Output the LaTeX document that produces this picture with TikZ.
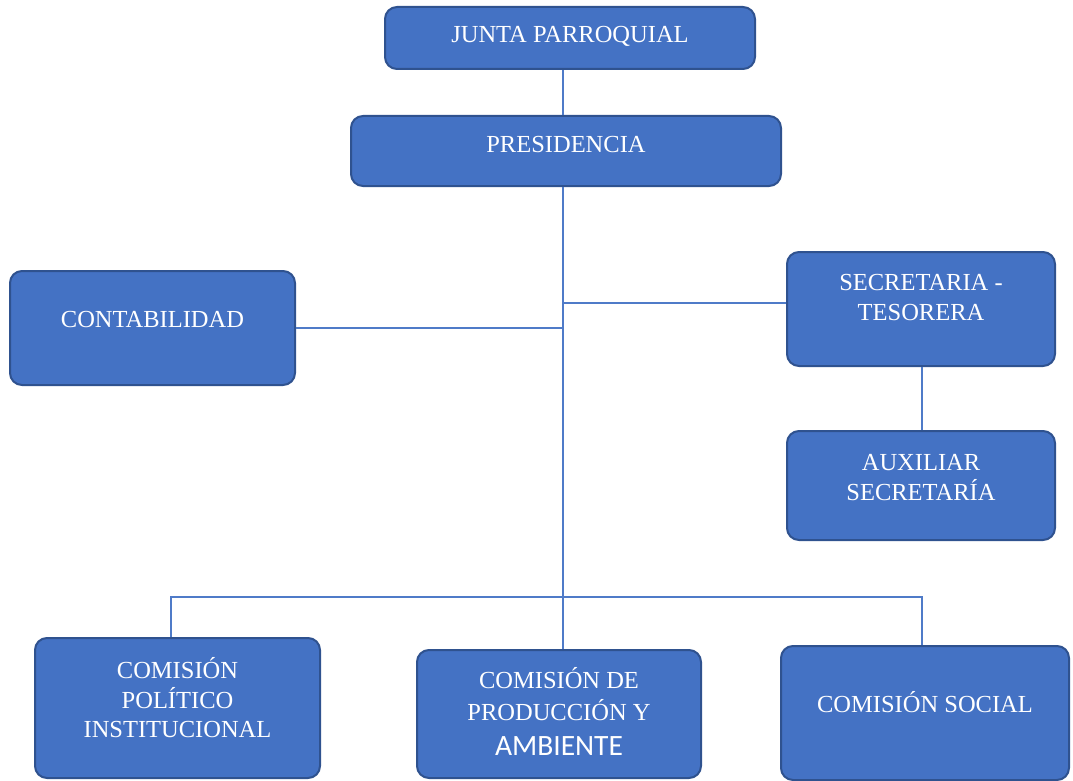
\documentclass[tikz,border=0pt]{standalone}
\usepackage{fontspec}
\setmainfont{Liberation Serif}
\newfontfamily\ambfont{Carlito}
\definecolor{boxfill}{HTML}{4472C4}
\definecolor{boxedge}{HTML}{2F528F}
\definecolor{linec}{HTML}{4F7BC8}
\begin{document}
\begin{tikzpicture}[x=1pt,y=-1pt,
  box/.style={draw=boxedge, fill=boxfill, line width=2pt, rounded corners=12pt, inner sep=0pt},
  lbl/.style={text=white, font=\fontsize{24.5}{30}\selectfont, inner sep=0pt, anchor=base},
  conn/.style={draw=linec, line width=1.3pt}]
\useasboundingbox (0,0) rectangle (1073,781);
% boxes
\node[box, minimum width=370pt, minimum height=62pt] (junta) at (570,38) {};
\node[box, minimum width=430pt, minimum height=70pt] (pres) at (566,151) {};
\node[box, minimum width=285pt, minimum height=114pt] (cont) at (152.5,328) {};
\node[box, minimum width=268pt, minimum height=114pt] (secr) at (921,309) {};
\node[box, minimum width=268pt, minimum height=109pt] (aux) at (921,485.5) {};
\node[box, minimum width=285pt, minimum height=140pt] (pol) at (177.5,708) {};
\node[box, minimum width=284pt, minimum height=128pt] (prod) at (559,714) {};
\node[box, minimum width=288pt, minimum height=134pt] (soc) at (925,713) {};
% labels
\node[lbl] (tjunta) at (570,43) {JUNTA PARROQUIAL};
\node[lbl] (tpres) at (566,153) {PRESIDENCIA};
\node[lbl] (tcont) at (152.5,327) {CONTABILIDAD};
\node[lbl] (tsecr1) at (921,290) {SECRETARIA -};
\node[lbl] (tsecr2) at (921,320) {TESORERA};
\node[lbl] (taux1) at (921,470) {AUXILIAR};
\node[lbl] (taux2) at (921,500) {SECRETARÍA};
\node[lbl] (tpol1) at (177.5,678) {COMISIÓN};
\node[lbl] (tpol2) at (177.5,708) {POLÍTICO};
\node[lbl] (tpol3) at (177.5,737) {INSTITUCIONAL};
\node[lbl] (tprod1) at (559,688) {COMISIÓN DE};
\node[lbl] (tprod2) at (559,720) {PRODUCCIÓN Y};
\node[lbl, font=\ambfont\fontsize{29.5}{30}\selectfont] (tprod3) at (559,755) {AMBIENTE};
\node[lbl] (tsoc) at (925,712) {COMISIÓN SOCIAL};
% connectors
\coordinate (trunk) at (563,0);
\coordinate (sj) at (563,303);
\coordinate (bl) at (171,597);
\coordinate (br) at (922,597);
\draw[conn] (trunk |- junta.south) -- (trunk |- pres.north);
\draw[conn] (trunk |- pres.south) -- (trunk |- prod.north);
\draw[conn] (cont.east) -- (cont.east -| trunk);
\draw[conn] (sj) -- (sj -| secr.west);
\draw[conn] (secr.south -| br) -- (aux.north -| br);
\draw[conn] (bl |- pol.north) -- (bl) -- (br) -- (br |- soc.north);
\end{tikzpicture}
\end{document}
